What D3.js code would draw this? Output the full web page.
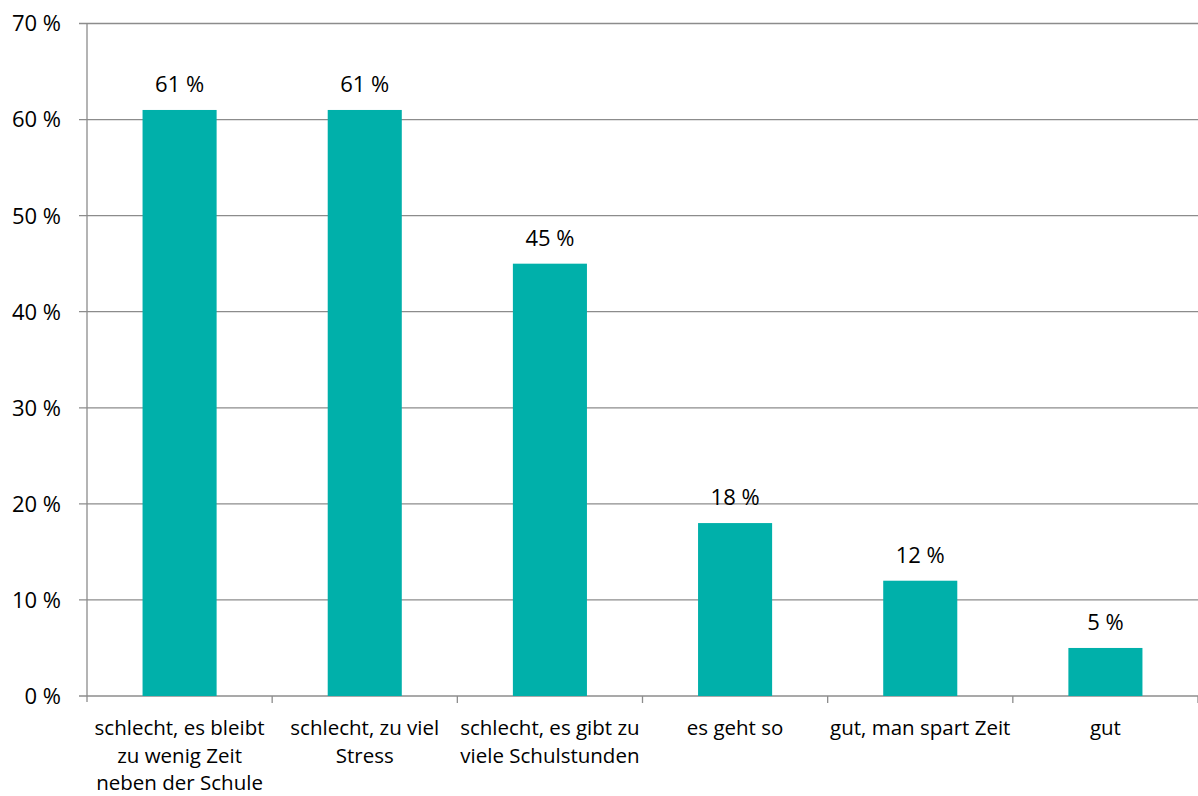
<!DOCTYPE html>
<html><head><meta charset="utf-8">
<script src="https://cdn.jsdelivr.net/npm/d3@7"></script>
<style>body{margin:0;background:#fff}text{font-family:"Open Sans","Noto Sans",sans-serif;fill:#000}</style>
</head><body><svg id="c" width="1198" height="796"></svg>
<script>
const categories = [
  ["schlecht, es bleibt","zu wenig Zeit","neben der Schule"],
  ["schlecht, zu viel","Stress"],
  ["schlecht, es gibt zu","viele Schulstunden"],
  ["es geht so"],
  ["gut, man spart Zeit"],
  ["gut"]
];
const values = [61, 61, 45, 18, 12, 5];
const yTicks = [0,10,20,30,40,50,60,70];

const svg = d3.select("#c");
const m = {l:87, r:0};
const W = 1198;
const x = d3.scaleBand().domain(d3.range(categories.length)).range([m.l, W - m.r]).paddingInner(0).paddingOuter(0);
const y = d3.scaleLinear().domain([0,70]).range([696, 23.5]);
const grey = "#8c8c8c";

svg.append("g").selectAll("line").data(yTicks).join("line")
  .attr("x1", m.l - 8).attr("x2", W).attr("y1", d=>y(d)).attr("y2", d=>y(d))
  .attr("stroke", grey).attr("stroke-width", 1.3);
svg.append("g").selectAll("text").data(yTicks).join("text")
  .attr("x", 61).attr("y", d=>y(d)).attr("dy","0.36em").attr("text-anchor","end")
  .attr("font-size", 22).text(d=>d+" %");
svg.append("line").attr("x1", m.l).attr("x2", m.l).attr("y1", y(70)).attr("y2", y(0)+6).attr("stroke", grey).attr("stroke-width",1.3);
const bounds = d3.range(categories.length+1).map(i => m.l + i*x.bandwidth());
svg.append("g").selectAll("line").data(bounds.slice(1)).join("line")
  .attr("x1", d=>d).attr("x2", d=>d).attr("y1", y(0)).attr("y2", y(0)+7).attr("stroke", grey).attr("stroke-width",1.3);

const bw = x.bandwidth()*0.4;
svg.append("g").selectAll("rect").data(values).join("rect")
  .attr("x", (d,i)=> x(i) + x.bandwidth()/2 - bw/2)
  .attr("y", d=>y(d)).attr("width", bw).attr("height", d=>y(0)-y(d))
  .attr("fill", "#00b0aa");
svg.append("g").selectAll("text").data(values).join("text")
  .attr("x", (d,i)=> x(i)+x.bandwidth()/2).attr("y", d=>y(d)-18)
  .attr("text-anchor","middle").attr("font-size",22).text(d=>d+" %");
const cl = svg.append("g").selectAll("text").data(categories).join("text")
  .attr("text-anchor","middle").attr("font-size",20.5);
cl.selectAll("tspan").data((d,i)=>d.map(t=>({t,i}))).join("tspan")
  .attr("x", d=> x(d.i)+x.bandwidth()/2)
  .attr("y", (d,j)=> 735 + j*27.5)
  .text(d=>d.t);
</script></body></html>
